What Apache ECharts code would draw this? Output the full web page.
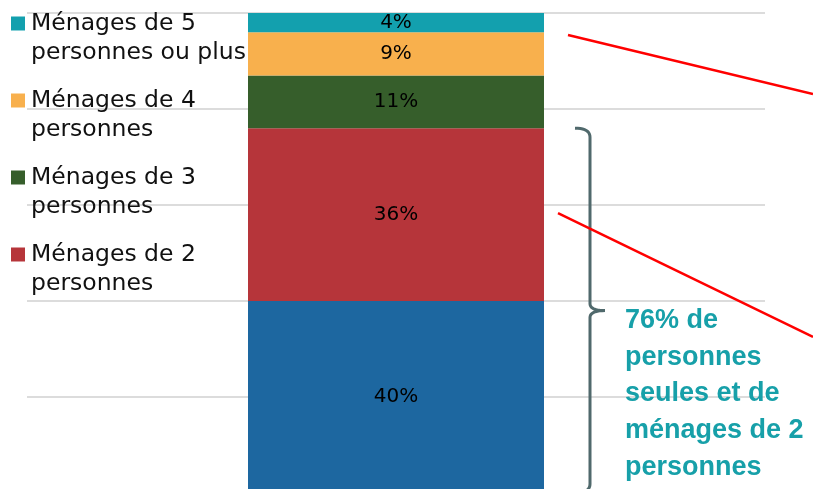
<!DOCTYPE html>
<html><head><meta charset="utf-8">
<script src="https://cdn.jsdelivr.net/npm/echarts@6/dist/echarts.min.js"></script>
<style>html,body{margin:0;padding:0;background:#fff}#c{width:813px;height:489px}</style>
</head><body><div id="c"></div>
<script>
var categories = ['Ménages'];
var seriesNames = ['Personnes seules', 'Ménages de 2 personnes', 'Ménages de 3 personnes', 'Ménages de 4 personnes', 'Ménages de 5 personnes ou plus'];
var seriesValues = [40, 36, 11, 9, 4];
var seriesColors = ['#1D67A0', '#B6353A', '#365E2B', '#F8B04D', '#13A0AE'];
var legendNames = ['Ménages de 5 personnes ou plus', 'Ménages de 4 personnes', 'Ménages de 3 personnes', 'Ménages de 2 personnes'];
var yTicks = [0, 20, 40, 60, 80, 100];
var annotationText = '76% de\npersonnes\nseules et de\nménages de 2\npersonnes';

var chart = echarts.init(document.getElementById('c'), null, {renderer: 'canvas'});
var font = '"DejaVu Sans"';
var series = seriesNames.map(function (n, i) {
  return {
    name: n, type: 'bar', stack: 'total', barWidth: 296,
    data: [seriesValues[i]],
    itemStyle: {color: seriesColors[i]},
    label: {show: true, position: 'inside', formatter: '{c}%', color: '#000', fontFamily: font, fontSize: 20},
    emphasis: {disabled: true}
  };
});
chart.setOption({
  animation: false,
  grid: {left: 27, right: 48, top: 13, height: 480, outerBoundsMode: 'none', containLabel: false},
  xAxis: {type: 'category', data: categories, show: false},
  yAxis: {type: 'value', min: yTicks[0], max: yTicks[yTicks.length - 1], interval: yTicks[1] - yTicks[0],
    axisLabel: {show: false}, axisLine: {show: false}, axisTick: {show: false},
    splitLine: {lineStyle: {color: '#dcdcdc', width: 2}}},
  legend: {
    data: legendNames, orient: 'vertical', left: 11, top: -20, padding: 0,
    itemWidth: 14, itemHeight: 14, itemGap: -10, icon: 'rect',
    formatter: function (n) { return '\n' + n.replace(/^(Ménages de \d) /, '$1\n'); },
    textStyle: {fontFamily: font, fontSize: 23.5, color: '#111', lineHeight: 29, padding: [0, 0, 0, 1]}
  },
  series: series
});

function py(v) { return chart.convertToPixel({yAxisIndex: 0}, v); }
var barRight = chart.convertToPixel({xAxisIndex: 0}, 0) + 148;
var yTop = py(seriesValues[0] + seriesValues[1]);
var yBot = py(0);
var yMid = (yTop + yBot) / 2;
var bx = barRight + 46;

function quad(p0, p1, p2, out) {
  for (var t = 0.1; t <= 1.0001; t += 0.1) {
    var a = (1 - t) * (1 - t), b = 2 * (1 - t) * t, c = t * t;
    out.push([a * p0[0] + b * p1[0] + c * p2[0], a * p0[1] + b * p1[1] + c * p2[1]]);
  }
}
var upper = [[bx - 15, yTop]];
quad([bx - 15, yTop], [bx, yTop], [bx, yTop + 9], upper);
upper.push([bx, yMid - 7]);
quad([bx, yMid - 7], [bx, yMid], [bx + 15, yMid], upper);
var lower = [[bx + 15, yMid]];
quad([bx + 15, yMid], [bx, yMid], [bx, yMid + 7], lower);
lower.push([bx, yBot - 9]);
quad([bx, yBot - 9], [bx, yBot], [bx - 15, yBot], lower);

chart.setOption({
  graphic: [
    {type: 'polyline', shape: {points: upper}, style: {fill: null, stroke: '#50696C', lineWidth: 3}, z: 10},
    {type: 'polyline', shape: {points: lower}, style: {fill: null, stroke: '#50696C', lineWidth: 3}, z: 10},
    {type: 'line', shape: {x1: barRight + 24, y1: py(95.4), x2: 813, y2: py(83.1)}, style: {stroke: '#FF0000', lineWidth: 2.5}, z: 10},
    {type: 'line', shape: {x1: barRight + 14, y1: py(58.3), x2: 813, y2: py(32.5)}, style: {stroke: '#FF0000', lineWidth: 2.5}, z: 10},
    {type: 'text', x: 625, y: 302, style: {text: annotationText, font: 'bold 27px "Liberation Sans"', fill: '#17A0A9', lineHeight: 36.7, verticalAlign: 'top'}, z: 10}
  ]
});
</script></body></html>
